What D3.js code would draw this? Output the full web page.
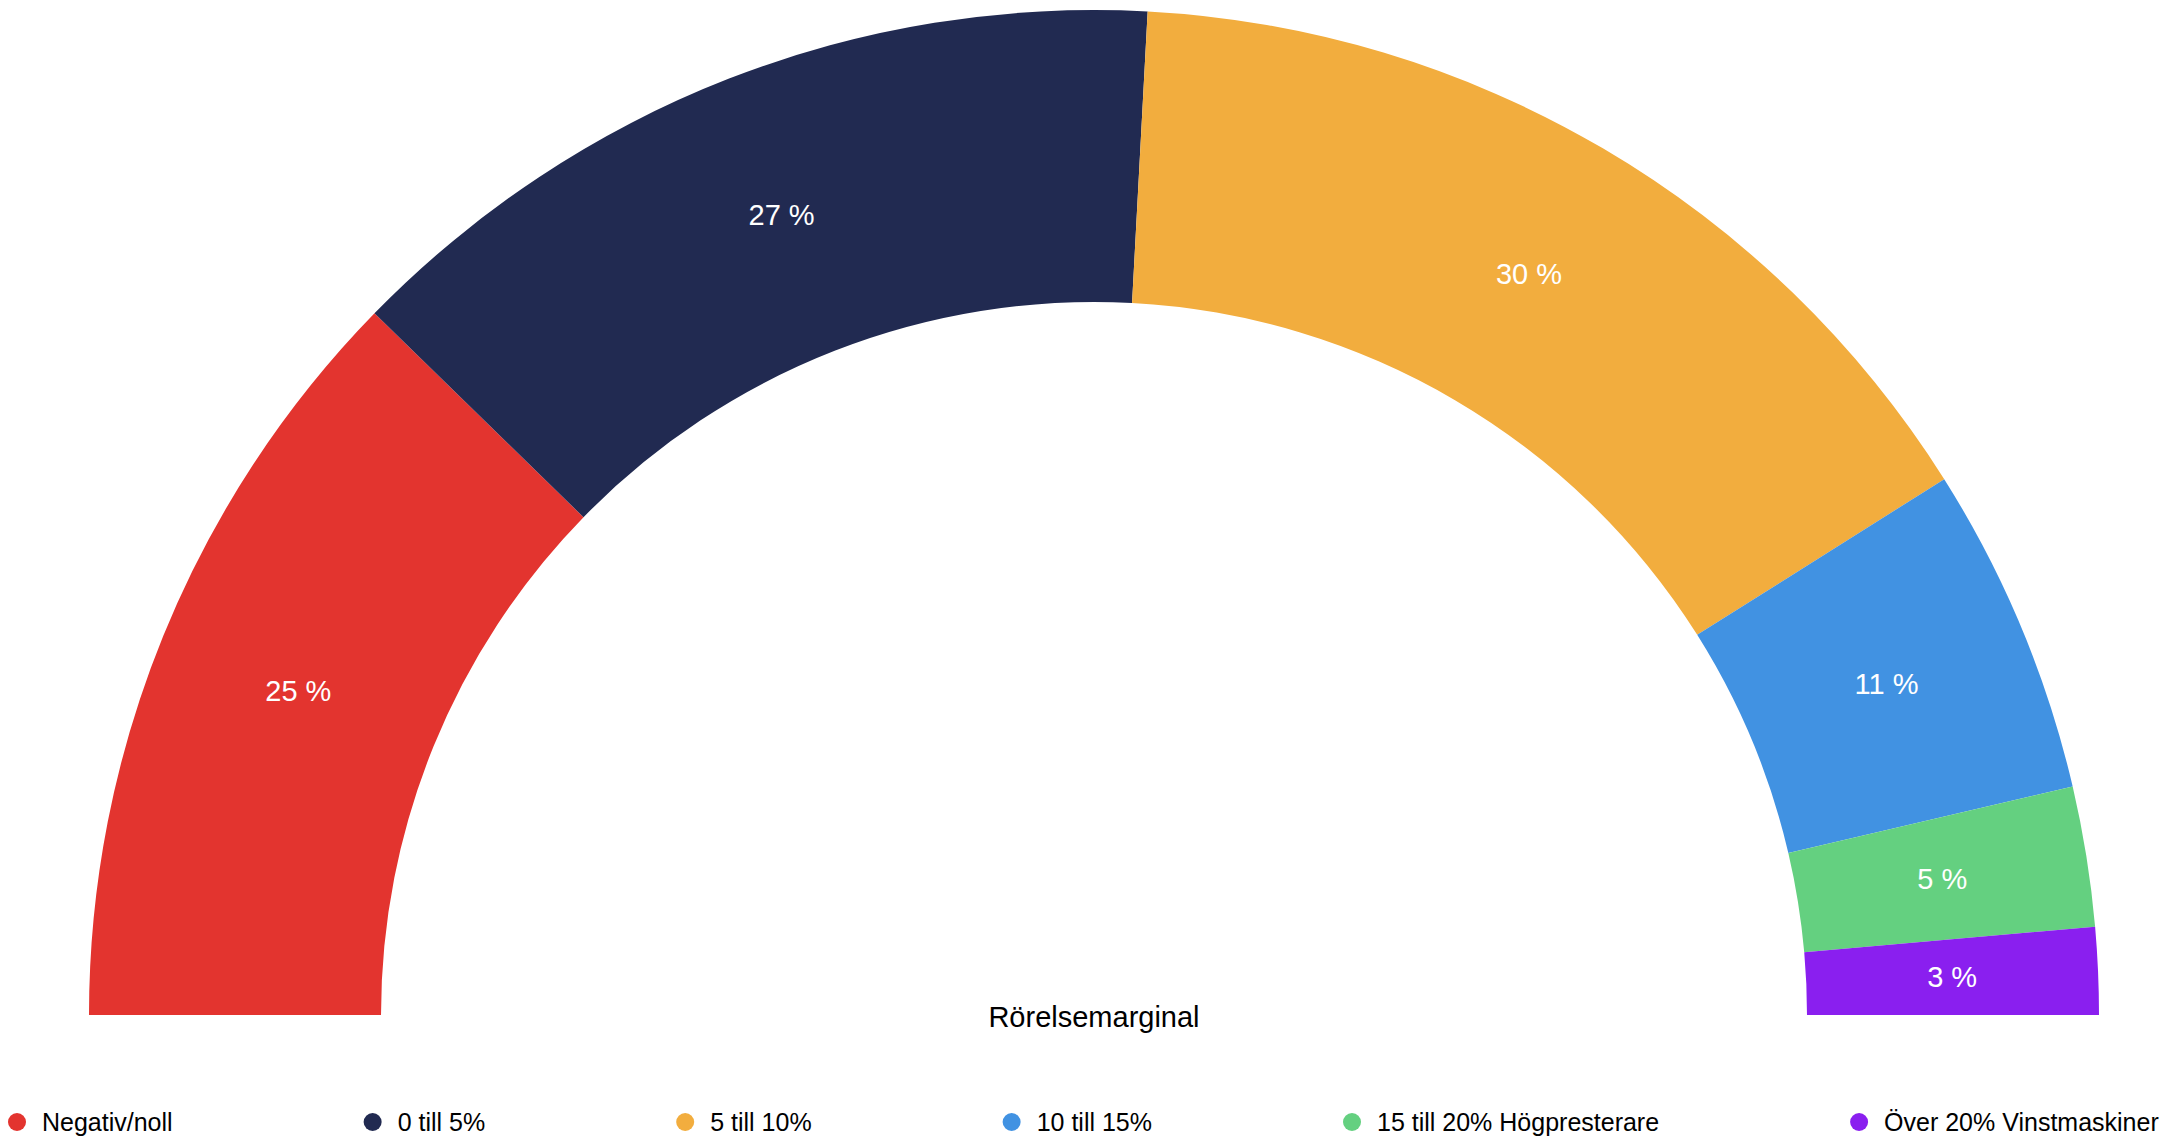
<!DOCTYPE html>
<html>
<head>
<meta charset="utf-8">
<script src="https://cdn.jsdelivr.net/npm/d3@7"></script>
<style>
  html, body { margin: 0; padding: 0; background: #fff; }
  svg { display: block; font-family: "Liberation Sans", Arial, Helvetica, sans-serif; }
</style>
</head>
<body>
<svg id="chart" width="2176" height="1138"></svg>
<script>
// ---- data ----
const categories = ["Negativ/noll", "0 till 5%", "5 till 10%", "10 till 15%", "15 till 20% Högpresterare", "Över 20% Vinstmaskiner"];
const values = [24.6, 27.1, 30.4, 10.6, 4.5, 2.8];
const colors = ["#e3342f", "#212a51", "#f2ad3e", "#4192e2", "#64d080", "#8a1fef"];
const title = "Rörelsemarginal";

// ---- layout ----
const W = 2176, H = 1138;
const cx = 1094, cy = 1015;
const outerR = 1005, innerR = 713;

const svg = d3.select("#chart");
const color = d3.scaleOrdinal().domain(categories).range(colors);

const data = categories.map((c, i) => ({ cat: c, value: values[i] }));

const pie = d3.pie()
  .value(d => d.value)
  .sort(null)
  .startAngle(-Math.PI / 2)
  .endAngle(Math.PI / 2);

const arc = d3.arc().innerRadius(innerR).outerRadius(outerR);

const g = svg.append("g").attr("transform", `translate(${cx},${cy})`);
const arcs = pie(data);

g.selectAll("path.slice")
  .data(arcs)
  .join("path")
  .attr("class", "slice")
  .attr("d", arc)
  .attr("fill", d => color(d.data.cat));

g.selectAll("text.lbl")
  .data(arcs)
  .join("text")
  .attr("class", "lbl")
  .attr("transform", d => `translate(${arc.centroid(d)})`)
  .attr("text-anchor", "middle")
  .attr("dy", "0.35em")
  .attr("fill", "#fff")
  .attr("font-size", 29)
  .text(d => Math.round(d.data.value) + " %");

// title
svg.append("text")
  .attr("x", cx)
  .attr("y", 1027)
  .attr("text-anchor", "middle")
  .attr("font-size", 29)
  .attr("fill", "#000")
  .text(title);

// legend (items in a row, fixed gap)
const legend = svg.append("g").attr("class", "legend");
const items = legend.selectAll("g.item")
  .data(categories)
  .join("g")
  .attr("class", "item");

items.append("circle")
  .attr("cx", 9)
  .attr("cy", 0)
  .attr("r", 9)
  .attr("fill", d => color(d));

items.append("text")
  .attr("x", 34)
  .attr("y", 0)
  .attr("dy", "0.36em")
  .attr("font-size", 25)
  .attr("fill", "#000")
  .text(d => d);

const widths = [];
items.each(function () {
  const t = d3.select(this).select("text").node();
  widths.push(34 + t.getComputedTextLength());
});
const left = 8, gap = 191;
let xpos = left;
items.each(function (d, i) {
  d3.select(this).attr("transform", `translate(${xpos},1122)`);
  xpos += widths[i] + gap;
});
</script>
</body>
</html>
